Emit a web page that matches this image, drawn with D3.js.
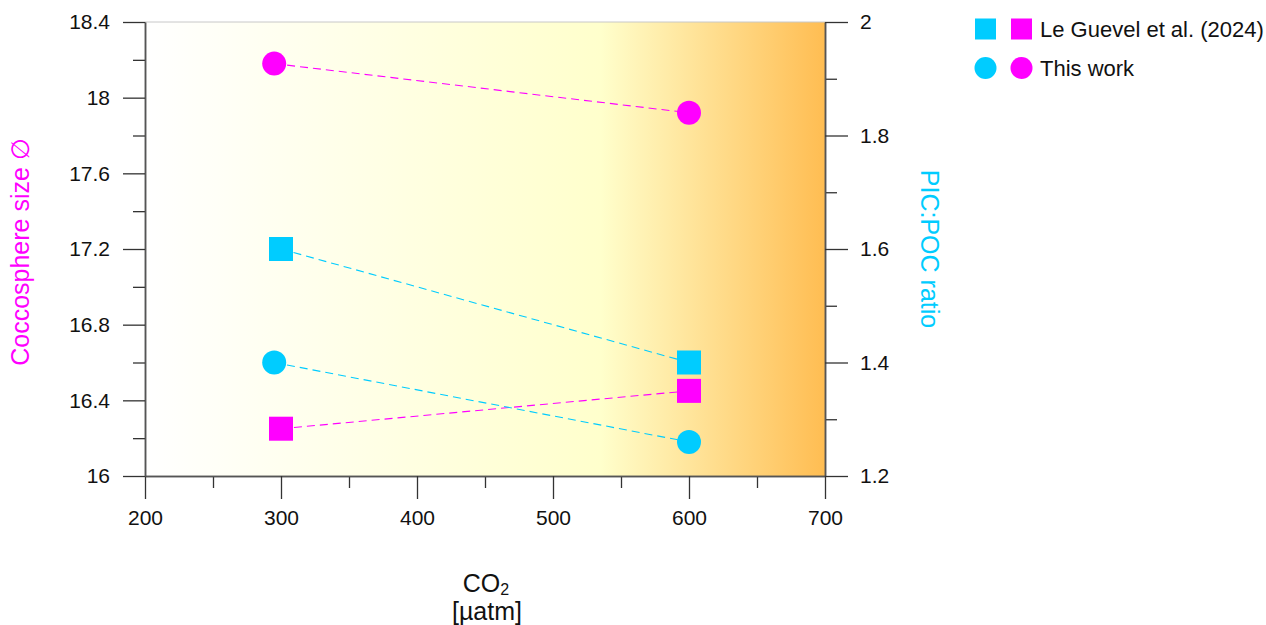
<!DOCTYPE html>
<html>
<head>
<meta charset="utf-8">
<script src="https://cdn.jsdelivr.net/npm/d3@7"></script>
<style>
  body { margin: 0; background: #fff; }
  text { font-family: "Liberation Sans", Arial, sans-serif; }
</style>
</head>
<body>
<div id="chart"></div>
<script>
// CO2 levels [µatm]
const thisWorkCO2 = [295, 600];
const leGuevelCO2 = [300, 600];

// coccosphere size (left axis, magenta)
const thisWorkSize = [18.18, 17.92];
const leGuevelSize = [16.25, 16.45];

// PIC:POC ratio (right axis, cyan)
const thisWorkRatio = [1.40, 1.26];
const leGuevelRatio = [1.60, 1.40];

const xTicks = [200, 300, 400, 500, 600, 700];
const leftTicks = [16, 16.4, 16.8, 17.2, 17.6, 18, 18.4];
const rightTicks = [1.2, 1.4, 1.6, 1.8, 2];

const magenta = "#ff00ff", cyan = "#00ccff";

const width = 1266, height = 625;
const margin = { top: 22, left: 145, right: 441, bottom: 149 };
const innerW = width - margin.left - margin.right;
const innerH = height - margin.top - margin.bottom;

const svg = d3.select("#chart").append("svg")
    .attr("width", width)
    .attr("height", height);

const x = d3.scaleLinear().domain([200, 700]).range([0, innerW]);
const yLeft = d3.scaleLinear().domain([16, 18.4]).range([innerH, 0]);
const yRight = d3.scaleLinear().domain([1.2, 2]).range([innerH, 0]);

// background gradient: white -> pale yellow -> orange
const grad = svg.append("defs").append("linearGradient")
    .attr("id", "bg").attr("x1", "0%").attr("x2", "100%");
grad.append("stop").attr("offset", "0%").attr("stop-color", "#ffffff");
grad.append("stop").attr("offset", "67%").attr("stop-color", "#ffffcc");
grad.append("stop").attr("offset", "100%").attr("stop-color", "#ffbd52");

const g = svg.append("g").attr("transform", `translate(${margin.left},${margin.top})`);

g.append("rect")
    .attr("width", innerW).attr("height", innerH)
    .attr("fill", "url(#bg)");
g.append("line")
    .attr("x1", 0).attr("x2", innerW).attr("y1", 0).attr("y2", 0)
    .attr("stroke", "#c8c8c8").attr("stroke-width", 1);

function styleAxis(sel) {
    sel.select(".domain").attr("stroke", "#555").attr("stroke-width", 1.5);
    sel.selectAll(".tick line").attr("stroke", "#333").attr("stroke-width", 1.3);
    sel.selectAll("text").attr("font-size", 21).attr("fill", "#111")
        .attr("font-family", "Liberation Sans, Arial, sans-serif");
}

// minor ticks
const xMinor = d3.range(250, 700, 100);
const leftMinor = d3.range(16.2, 18.4, 0.4);
const rightMinor = d3.range(1.3, 2, 0.2);

g.append("g").attr("transform", `translate(0,${innerH})`)
    .call(d3.axisBottom(x).tickValues(xMinor).tickSize(12).tickFormat("").tickSizeOuter(0))
    .call(styleAxis);
g.append("g").attr("transform", `translate(0,${innerH})`)
    .call(d3.axisBottom(x).tickValues(xTicks).tickSize(23).tickPadding(11).tickSizeOuter(0))
    .call(styleAxis);

g.append("g")
    .call(d3.axisLeft(yLeft).tickValues(leftMinor).tickSize(12).tickFormat("").tickSizeOuter(0))
    .call(styleAxis);
g.append("g")
    .call(d3.axisLeft(yLeft).tickValues(leftTicks).tickSize(22).tickPadding(13)
        .tickFormat(d3.format("~g")).tickSizeOuter(0))
    .call(styleAxis);

g.append("g").attr("transform", `translate(${innerW},0)`)
    .call(d3.axisRight(yRight).tickValues(rightMinor).tickSize(12).tickFormat("").tickSizeOuter(0))
    .call(styleAxis);
g.append("g").attr("transform", `translate(${innerW},0)`)
    .call(d3.axisRight(yRight).tickValues(rightTicks).tickSize(23).tickPadding(12)
        .tickFormat(d3.format("~g")).tickSizeOuter(0))
    .call(styleAxis);

// dashed connecting lines
function dashed(xs, ys, yScale, color) {
    g.append("path")
        .datum(xs.map((v, i) => [v, ys[i]]))
        .attr("d", d3.line().x(d => x(d[0])).y(d => yScale(d[1])))
        .attr("fill", "none")
        .attr("stroke", color)
        .attr("stroke-width", 1.1)
        .attr("stroke-dasharray", "8,5");
}
dashed(thisWorkCO2, thisWorkSize, yLeft, magenta);
dashed(leGuevelCO2, leGuevelSize, yLeft, magenta);
dashed(thisWorkCO2, thisWorkRatio, yRight, cyan);
dashed(leGuevelCO2, leGuevelRatio, yRight, cyan);

// markers
const sq = 24, r = 12;
function squares(xs, ys, yScale, color) {
    g.selectAll(null).data(xs.map((v, i) => [v, ys[i]])).enter().append("rect")
        .attr("x", d => x(d[0]) - sq / 2).attr("y", d => yScale(d[1]) - sq / 2)
        .attr("width", sq).attr("height", sq)
        .attr("fill", color);
}
function circles(xs, ys, yScale, color) {
    g.selectAll(null).data(xs.map((v, i) => [v, ys[i]])).enter().append("circle")
        .attr("cx", d => x(d[0])).attr("cy", d => yScale(d[1])).attr("r", r)
        .attr("fill", color);
}
squares(leGuevelCO2, leGuevelRatio, yRight, cyan);
squares(leGuevelCO2, leGuevelSize, yLeft, magenta);
circles(thisWorkCO2, thisWorkRatio, yRight, cyan);
circles(thisWorkCO2, thisWorkSize, yLeft, magenta);

// axis titles
svg.append("text")
    .attr("transform", `translate(29,252) rotate(-90)`)
    .attr("text-anchor", "middle")
    .attr("font-size", 25).attr("fill", magenta)
    .text("Coccosphere size \u2205");

svg.append("text")
    .attr("transform", `translate(921,249) rotate(90)`)
    .attr("text-anchor", "middle")
    .attr("font-size", 25).attr("fill", cyan)
    .text("PIC:POC ratio");

const xt = svg.append("text")
    .attr("x", 486).attr("y", 592)
    .attr("text-anchor", "middle")
    .attr("font-size", 25).attr("fill", "#111");
xt.append("tspan").text("CO");
xt.append("tspan").attr("font-size", 16).attr("dy", 3).text("2");
svg.append("text")
    .attr("x", 487).attr("y", 620)
    .attr("text-anchor", "middle")
    .attr("font-size", 25).attr("fill", "#111")
    .text("[µatm]");

// legend
const legend = svg.append("g").attr("transform", "translate(975,0)");
const ls = 21;
legend.append("rect").attr("x", 0).attr("y", 29 - ls / 2).attr("width", ls).attr("height", ls).attr("fill", cyan);
legend.append("rect").attr("x", 36).attr("y", 29 - ls / 2).attr("width", ls).attr("height", ls).attr("fill", magenta);
legend.append("circle").attr("cx", ls / 2).attr("cy", 68).attr("r", 11).attr("fill", cyan);
legend.append("circle").attr("cx", 36 + ls / 2).attr("cy", 68).attr("r", 11).attr("fill", magenta);
legend.append("text").attr("x", 65).attr("y", 37).attr("font-size", 22).attr("fill", "#111")
    .text("Le Guevel et al. (2024)");
legend.append("text").attr("x", 65).attr("y", 76).attr("font-size", 22).attr("fill", "#111")
    .text("This work");
</script>
</body>
</html>
